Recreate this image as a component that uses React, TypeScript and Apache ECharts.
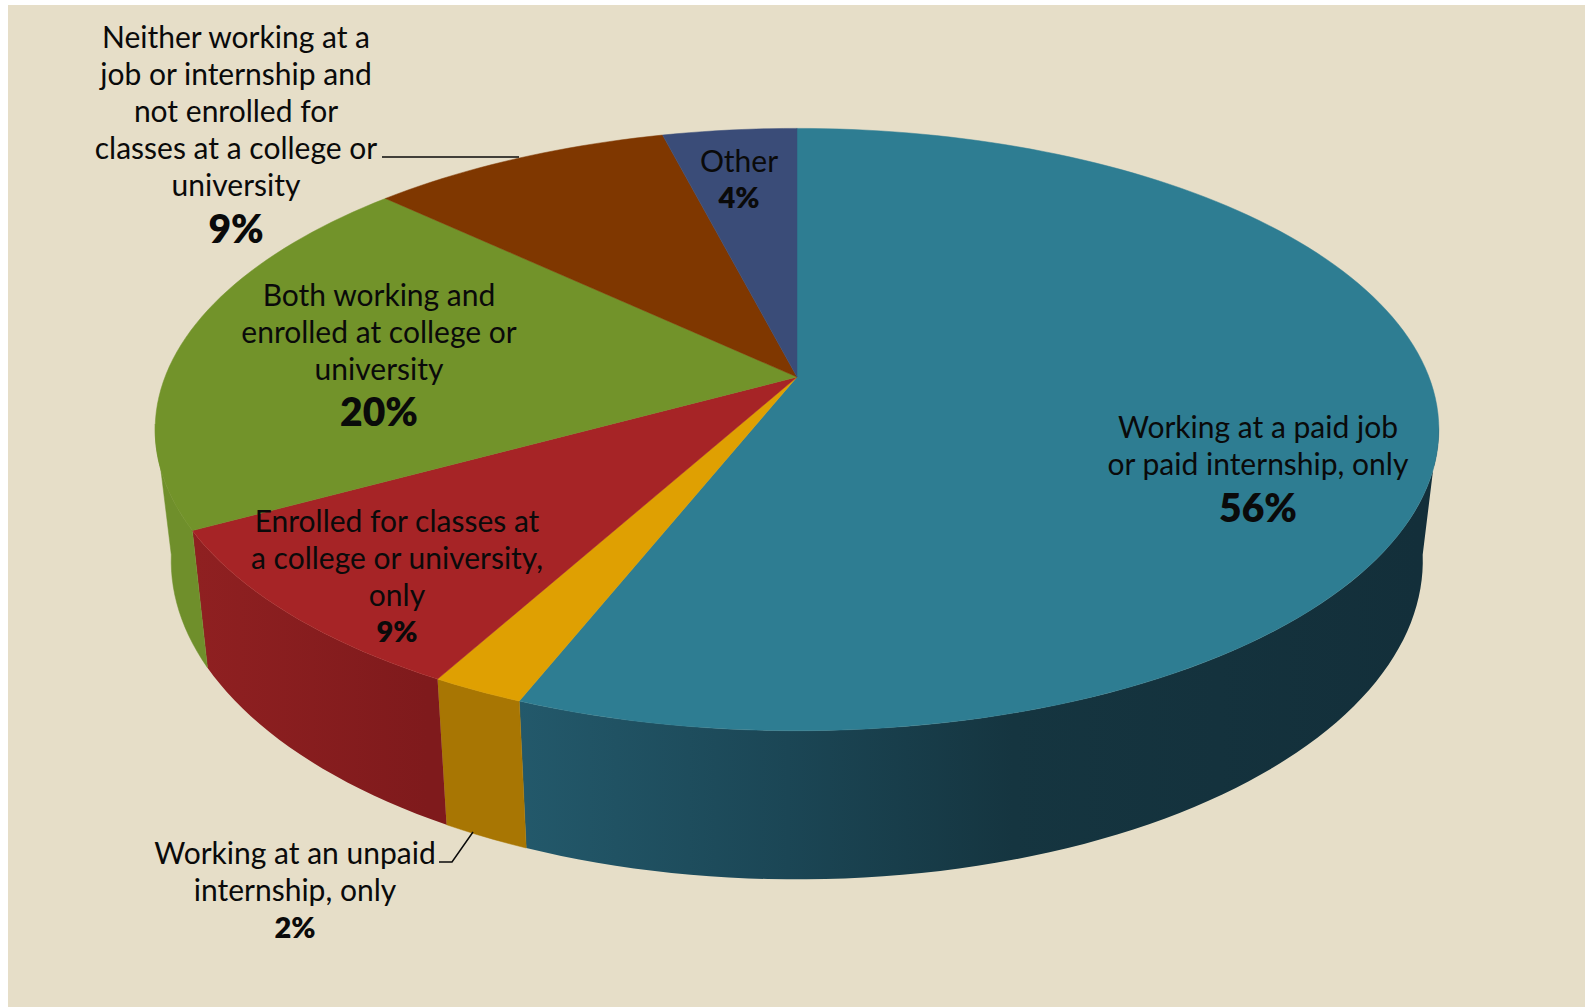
import React, { useEffect, useRef } from "react";
import * as echarts from "echarts";

// Share of respondents in each activity, clockwise from twelve o'clock.
const categories = [
  "Working at a paid job or paid internship, only",
  "Working at an unpaid internship, only",
  "Enrolled for classes at a college or university, only",
  "Both working and enrolled at college or university",
  "Neither working at a job or internship and not enrolled for classes at a college or university",
  "Other",
];
const shares = [56, 2, 9, 20, 9, 4];
const topColors = ["#2e7d92", "#dfa002", "#a62426", "#72932a", "#7f3700", "#3a4c78"];
const labelLines = [
  ["Working at a paid job", "or paid internship, only"],
  ["Working at an unpaid", "internship, only"],
  ["Enrolled for classes at", "a college or university,", "only"],
  ["Both working and", "enrolled at college or", "university"],
  ["Neither working at a", "job or internship and", "not enrolled for", "classes at a college or", "university"],
  ["Other"],
];

const FONT = "Lato, 'Open Sans', sans-serif";
const INK = "#0a0a0a";

// Perspective projection of the pie's disc onto the page.
const CX = 797;
const CY = 377;
const SCALE_X = 632;
const SCALE_Y = 292;
const TILT = 0.1745;
const BASE_SHRINK = 0.975;

const rad = (deg: number) => (deg * Math.PI) / 180;

function rimTop(deg: number): [number, number] {
  const u = Math.sin(rad(deg));
  const v = -Math.cos(rad(deg));
  const w = 1 - TILT * v;
  return [CX + (SCALE_X * u) / w, CY + (SCALE_Y * v) / w];
}

function rimBase(deg: number): [number, number] {
  const [x, y] = rimTop(deg);
  return [CX + BASE_SHRINK * (x - CX), y + 131.5 + (y - 435) * 0.058];
}

function arc(from: number, to: number, rim: (d: number) => [number, number]) {
  const n = Math.max(2, Math.ceil(Math.abs(to - from) / 1.5));
  const pts: [number, number][] = [];
  for (let i = 0; i <= n; i++) pts.push(rim(from + ((to - from) * i) / n));
  return pts;
}

const startAngles = shares.map((_, i) => (shares.slice(0, i).reduce((a, b) => a + b, 0) / 100) * 360);
const endAngles = shares.map((s, i) => startAngles[i] + (s / 100) * 360);

// Visible stretch of the side wall, between the two silhouette tangents.
const WALL_FROM = 99;
const WALL_TO = 261;

const G = echarts.graphic as any;
const hGrad = (x0: number, x1: number, stops: [number, string][]) =>
  new G.LinearGradient(x0, 0, x1, 0, stops.map(([offset, color]) => ({ offset, color })), true);

const wallFills: any[] = [
  hGrad(517, 1420, [
    [0, "#23596b"],
    [0.3, "#1b4655"],
    [0.55, "#153540"],
    [1, "#132f3a"],
  ]),
  "#a87603",
  hGrad(197, 427, [
    [0, "#8f2021"],
    [1, "#7f1a1c"],
  ]),
  "#6f8f2b",
  "#6a2e00",
  "#2d3c60",
];

// Label placement: centre x, first line y, then the percent line y and size.
const labelPlace = [
  { x: 1258, y: 425.5, py: 507, ps: 39 },
  { x: 295, y: 852, py: 926, ps: 29 },
  { x: 397, y: 519.5, py: 630, ps: 29 },
  { x: 379, y: 294, py: 411, ps: 39 },
  { x: 236, y: 35.5, py: 227.5, ps: 39 },
  { x: 739, y: 159.5, py: 196, ps: 29 },
];
const LINE_STEP = 37.2;

export default function App() {
  const ref = useRef<HTMLDivElement>(null);

  useEffect(() => {
    const chart = echarts.init(ref.current!, null, { renderer: "svg" });
    const data = categories.map((name, i) => ({ name, value: shares[i] }));

    chart.setOption({
      animation: false,
      tooltip: { show: false },
      graphic: {
        elements: [
          { type: "rect", z: -10, shape: { x: 8, y: 5, width: 1577, height: 1002 }, style: { fill: "#e6dec8" } },
          { type: "line", z: 20, shape: { x1: 382, y1: 157, x2: 519, y2: 157 }, style: { stroke: INK, lineWidth: 1.6 } },
          {
            type: "polyline",
            z: 20,
            shape: { points: [[439, 862], [452, 862], [473, 832]] },
            style: { stroke: INK, lineWidth: 1.5, fill: "none" },
          },
        ],
      },
      series: [
        {
          // Side wall of the pie.
          type: "custom",
          coordinateSystem: "none",
          z: 2,
          silent: true,
          data,
          renderItem: (params: any) => {
            const i = params.dataIndex;
            const from = Math.max(startAngles[i], WALL_FROM);
            const to = Math.min(endAngles[i], WALL_TO);
            if (to <= from) return { type: "group", children: [] };
            const points = [...arc(from, to, rimTop), ...arc(to, from, rimBase)];
            const fill = wallFills[i];
            return {
              type: "polygon",
              shape: { points },
              style: { fill, stroke: typeof fill === "string" ? fill : "#153540", lineWidth: typeof fill === "string" ? 0.5 : 0 },
            };
          },
        },
        {
          // Top face of the pie.
          type: "custom",
          coordinateSystem: "none",
          z: 3,
          silent: true,
          data,
          renderItem: (params: any) => {
            const i = params.dataIndex;
            const points = [[CX, CY], ...arc(startAngles[i], endAngles[i], rimTop)];
            return {
              type: "polygon",
              shape: { points },
              style: { fill: topColors[i], stroke: topColors[i], lineWidth: 0.5 },
            };
          },
        },
        {
          // Category text with the bold percent beneath it.
          type: "custom",
          coordinateSystem: "none",
          z: 4,
          silent: true,
          data,
          renderItem: (params: any) => {
            const i = params.dataIndex;
            const place = labelPlace[i];
            const children: any[] = labelLines[i].map((text, n) => ({
              type: "text",
              style: {
                text,
                x: place.x,
                y: place.y + n * LINE_STEP,
                fill: INK,
                font: `400 30px ${FONT}`,
                textAlign: "center",
                textVerticalAlign: "middle",
              },
            }));
            children.push({
              type: "text",
              style: {
                text: `${shares[i]}%`,
                x: place.x,
                y: place.py,
                fill: INK,
                font: `800 ${place.ps}px ${FONT}`,
                textAlign: "center",
                textVerticalAlign: "middle",
              },
            });
            return { type: "group", children };
          },
        },
      ],
    });
    return () => chart.dispose();
  }, []);

  return <div ref={ref} style={{ position: "absolute", left: 0, top: 0, width: 1585, height: 1007 }} />;
}
